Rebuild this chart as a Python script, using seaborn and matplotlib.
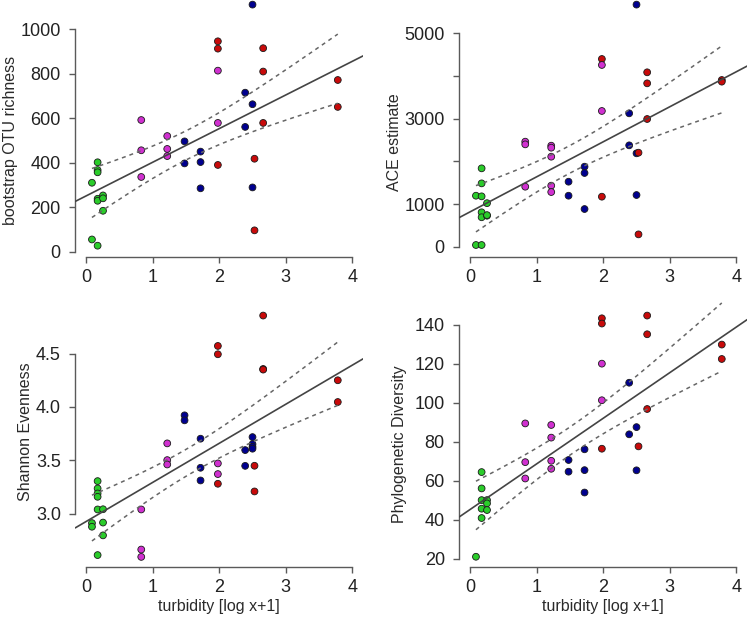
import numpy as np
import pandas as pd
import matplotlib
matplotlib.use("Agg")
import matplotlib.pyplot as plt
import seaborn as sns

# ---------------- data ----------------
site_order = ["green", "blue", "red", "magenta"]
site_colors = {"green": "#2ACC2A", "magenta": "#D030D0", "blue": "#00008F", "red": "#C80A0A"}

# Panel A: bootstrap OTU richness
rich_green_x = [0.09, 0.09, 0.175, 0.175, 0.175, 0.175, 0.175, 0.175, 0.256, 0.256, 0.256]
rich_green_y = [310, 55, 402, 367, 357, 238, 229, 27, 253, 240, 184]
rich_blue_x = [1.48, 1.48, 1.72, 1.72, 1.72, 2.39, 2.39, 2.5, 2.5, 2.5]
rich_blue_y = [496, 397, 450, 403, 285, 715, 561, 1111, 663, 289]
rich_red_x = [1.98, 1.98, 1.98, 2.53, 2.53, 2.66, 2.66, 2.66, 3.78, 3.78]
rich_red_y = [946, 913, 390, 418, 96, 915, 810, 579, 772, 651]
rich_mag_x = [0.83, 0.83, 0.83, 1.22, 1.22, 1.22, 1.98, 1.98]
rich_mag_y = [592, 456, 336, 520, 462, 430, 814, 579]

# Panel B: ACE estimate
ace_green_x = [0.09, 0.09, 0.175, 0.175, 0.175, 0.175, 0.175, 0.175, 0.256, 0.256, 0.256]
ace_green_y = [1195, 40, 1836, 1484, 1180, 806, 690, 40, 1020, 726, 740]
ace_blue_x = [1.48, 1.48, 1.72, 1.72, 1.72, 2.39, 2.39, 2.5, 2.5, 2.5]
ace_blue_y = [1523, 1195, 1875, 1727, 883, 3125, 2375, 5672, 2188, 1211]
ace_red_x = [1.98, 1.98, 2.53, 2.53, 2.66, 2.66, 2.66, 3.78, 3.78]
ace_red_y = [4398, 1172, 2203, 289, 4086, 3828, 2992, 3906, 3867]
ace_mag_x = [0.83, 0.83, 0.83, 1.22, 1.22, 1.22, 1.22, 1.22, 1.98, 1.98]
ace_mag_y = [2461, 2398, 1406, 2367, 2320, 2109, 1430, 1281, 4258, 3180]

# Panel C: Shannon evenness
sh_green_x = [0.09, 0.09, 0.175, 0.175, 0.175, 0.175, 0.175, 0.175, 0.256, 0.256, 0.256]
sh_green_y = [2.91, 2.876, 3.304, 3.235, 3.188, 3.157, 3.038, 2.61, 3.04, 2.915, 2.795]
sh_blue_x = [1.48, 1.48, 1.72, 1.72, 1.72, 2.39, 2.39, 2.5, 2.5, 2.5, 2.5]
sh_blue_y = [3.921, 3.874, 3.702, 3.429, 3.31, 3.595, 3.447, 3.717, 3.651, 3.626, 3.608]
sh_red_x = [1.98, 1.98, 1.98, 2.53, 2.53, 2.66, 2.66, 2.66, 3.78, 3.78]
sh_red_y = [4.572, 4.494, 3.279, 3.448, 3.207, 4.857, 4.356, 4.35, 4.25, 4.046]
sh_mag_x = [0.83, 0.83, 0.83, 1.22, 1.22, 1.22, 1.98, 1.98]
sh_mag_y = [3.038, 2.662, 2.593, 3.658, 3.501, 3.46, 3.47, 3.37]

# Panel D: Phylogenetic diversity
pd_green_x = [0.09, 0.175, 0.175, 0.175, 0.175, 0.175, 0.256, 0.256, 0.256]
pd_green_y = [20.9, 64.4, 56.0, 50.0, 45.6, 40.8, 50.0, 48.3, 44.9]
pd_blue_x = [1.48, 1.48, 1.72, 1.72, 1.72, 2.39, 2.39, 2.5, 2.5]
pd_blue_y = [70.6, 64.6, 76.1, 65.4, 53.9, 110.3, 83.8, 87.5, 65.3]
pd_red_x = [1.98, 1.98, 1.98, 2.53, 2.66, 2.66, 2.66, 3.78, 3.78]
pd_red_y = [143.4, 140.7, 76.4, 77.6, 144.8, 135.2, 96.8, 129.9, 122.5]
pd_mag_x = [0.83, 0.83, 0.83, 1.22, 1.22, 1.22, 1.22, 1.98, 1.98]
pd_mag_y = [89.4, 69.5, 61.1, 88.6, 82.1, 70.2, 66.1, 120.1, 101.3]

x_ticks = [0, 1, 2, 3, 4]
x_label = "turbidity [log x+1]"
y_labels = ["bootstrap OTU richness", "ACE estimate", "Shannon Evenness", "Phylogenetic Diversity"]
y_ticks_A = [0, 200, 400, 600, 800, 1000]
y_ticklabels_A = ["0", "200", "400", "600", "800", "1000"]
y_ticks_B = [0, 1000, 2000, 3000, 4000, 5000]
y_ticklabels_B = ["0", "1000", "", "3000", "", "5000"]
y_ticks_C = [3.0, 3.5, 4.0, 4.5]
y_ticklabels_C = ["3.0", "3.5", "4.0", "4.5"]
y_ticks_D = [20, 40, 60, 80, 100, 120, 140]
y_ticklabels_D = ["20", "40", "60", "80", "100", "120", "140"]


def make_df(gx, gy, bx, by, rx, ry, mx, my):
    parts = []
    for name, xs, ys in [("green", gx, gy), ("blue", bx, by), ("red", rx, ry), ("magenta", mx, my)]:
        parts.append(pd.DataFrame({"x": xs, "y": ys, "site": name}))
    return pd.concat(parts, ignore_index=True)


def t975(df):
    z = 1.959964
    g1 = (z**3 + z) / 4
    g2 = (5 * z**5 + 16 * z**3 + 3 * z) / 96
    g3 = (3 * z**7 + 19 * z**5 + 17 * z**3 - 15 * z) / 384
    return z + g1 / df + g2 / df**2 + g3 / df**3


# ---------------- figure ----------------
sns.set_theme(style="ticks")
plt.rcParams['font.family'] = ['Liberation Sans', 'DejaVu Sans']

W, H = 748, 622
fig = plt.figure(figsize=(W / 100, H / 100), dpi=100)

XLIM = (-0.16, 4.16)
AX_COL = "#5a5a5a"

panels = [
    dict(df=make_df(rich_green_x, rich_green_y, rich_blue_x, rich_blue_y, rich_red_x, rich_red_y, rich_mag_x, rich_mag_y),
         box=(75.3, 0, 363.1, 256.7), ylim=(-22.5, 1131.7), yt=y_ticks_A, ytl=y_ticklabels_A,
         ylab=y_labels[0], ylab_pos=(10.7, 140.0), xlab=False),
    dict(df=make_df(ace_green_x, ace_green_y, ace_blue_x, ace_blue_y, ace_red_x, ace_red_y, ace_mag_x, ace_mag_y),
         box=(459.3, 0, 747.1, 256.7), ylim=(-234, 5780), yt=y_ticks_B, ytl=y_ticklabels_B,
         ylab=y_labels[1], ylab_pos=(394.7, 142.3), xlab=False),
    dict(df=make_df(sh_green_x, sh_green_y, sh_blue_x, sh_blue_y, sh_red_x, sh_red_y, sh_mag_x, sh_mag_y),
         box=(75.3, 300, 363.1, 566.7), ylim=(2.501, 5.003), yt=y_ticks_C, ytl=y_ticklabels_C,
         ylab=y_labels[2], ylab_pos=(25.7, 431.7), xlab=True),
    dict(df=make_df(pd_green_x, pd_green_y, pd_blue_x, pd_blue_y, pd_red_x, pd_red_y, pd_mag_x, pd_mag_y),
         box=(459.3, 300, 747.1, 566.7), ylim=(15.79, 152.8), yt=y_ticks_D, ytl=y_ticklabels_D,
         ylab=y_labels[3], ylab_pos=(399.7, 444.0), xlab=True),
]

for p in panels:
    l, t, r, b = p["box"]
    ax = fig.add_axes([l / W, 1 - b / H, (r - l) / W, (b - t) / H])
    ax.set_facecolor("none")
    df = p["df"]
    sns.scatterplot(data=df, x="x", y="y", hue="site", hue_order=site_order, palette=site_colors,
                    s=24, edgecolor="#1a1a1a", linewidth=0.6, legend=False, ax=ax, zorder=2,
                    clip_on=False)

    # linear fit with 95% confidence band for the mean
    xs = df["x"].to_numpy(float)
    ys = df["y"].to_numpy(float)
    n = len(xs)
    b1, b0 = np.polyfit(xs, ys, 1)
    resid = ys - (b0 + b1 * xs)
    s = np.sqrt(np.sum(resid**2) / (n - 2))
    xbar = xs.mean()
    sxx = np.sum((xs - xbar) ** 2)
    tq = t975(n - 2)
    xx = np.linspace(xs.min(), xs.max(), 200)
    se = s * np.sqrt(1 / n + (xx - xbar) ** 2 / sxx)
    yfit = b0 + b1 * xx
    xl = np.array(XLIM)
    ax.plot(xl, b0 + b1 * xl, color="#444444", lw=1.2, zorder=3)
    ax.plot(xx, yfit + tq * se, color="#666666", lw=1.1, ls=(0, (2.6, 2.6)), zorder=3)
    ax.plot(xx, yfit - tq * se, color="#666666", lw=1.1, ls=(0, (2.6, 2.6)), zorder=3)

    ax.set_xlim(*XLIM)
    ax.set_ylim(*p["ylim"])
    ax.set_xticks(x_ticks)
    ax.set_xticklabels([str(v) for v in x_ticks])
    ax.set_yticks(p["yt"])
    ax.set_yticklabels(p["ytl"])

    for side in ["top", "right"]:
        ax.spines[side].set_visible(False)
    ax.spines["left"].set_bounds(p["yt"][0], p["yt"][-1])
    ax.spines["bottom"].set_bounds(x_ticks[0], x_ticks[-1])
    for side in ["left", "bottom"]:
        ax.spines[side].set_color(AX_COL)
        ax.spines[side].set_linewidth(1.0)
    ax.tick_params(axis="both", direction="out", length=4.2, width=1.0, color=AX_COL,
                   pad=6.2, labelsize=13, labelcolor="#222222", left=True, bottom=True)
    ax.tick_params(axis="x", pad=5.0)

    ax.set_ylabel(p["ylab"], fontsize=11.5, color="#2a2a2a", va="center", ha="center")
    cx, cy = p["ylab_pos"]
    ax.yaxis.set_label_coords((cx - l) / (r - l), (b - cy) / (b - t))
    if p["xlab"]:
        ax.set_xlabel(x_label, fontsize=11.5, color="#2a2a2a", va="center", ha="center")
        ax.xaxis.set_label_coords(((l + r) / 2 - l) / (r - l), (b - 606) / (b - t))
    else:
        ax.set_xlabel("")

fig.savefig("out.png", dpi=100)
